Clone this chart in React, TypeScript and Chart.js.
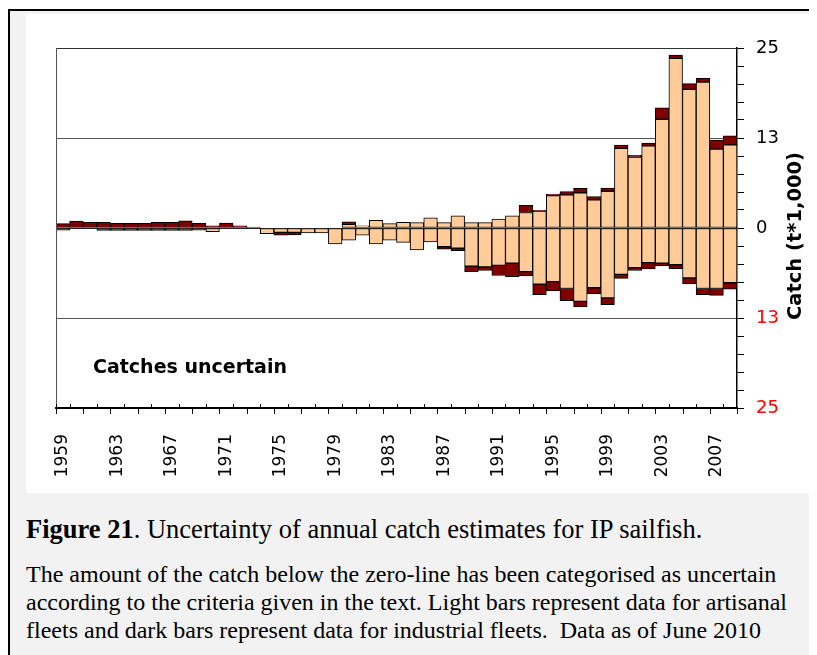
import React, { useEffect, useRef } from 'react';
import { Chart, registerables } from 'chart.js';

Chart.register(...registerables);

const years = [
  '1959', '1960', '1961', '1962', '1963', '1964', '1965', '1966', '1967', '1968',
  '1969', '1970', '1971', '1972', '1973', '1974', '1975', '1976', '1977', '1978',
  '1979', '1980', '1981', '1982', '1983', '1984', '1985', '1986', '1987', '1988',
  '1989', '1990', '1991', '1992', '1993', '1994', '1995', '1996', '1997', '1998',
  '1999', '2000', '2001', '2002', '2003', '2004', '2005', '2006', '2007', '2008',
];

// catches above the zero line (t*1,000)
const artisanalCertain = [
  0, 0, 0, 0, 0, 0, 0, 0, 0, 0,
  0, 0, 0, 0, 0, 0, 0, 0, 0, 0,
  0, 0.5, 0.3, 1.06, 0.6, 0.8, 0.75, 1.4, 0.75, 1.7,
  0.75, 0.75, 1.25, 1.7, 2.15, 2.35, 4.5, 4.6, 4.9, 3.9,
  5.1, 11.05, 9.85, 11.4, 15.1, 23.55, 19.25, 20.25, 10.95, 11.55,
];
const industrialCertain = [
  0.6, 0.95, 0.8, 0.8, 0.65, 0.65, 0.65, 0.8, 0.8, 1.0,
  0.65, 0.3, 0.7, 0.3, 0.12, 0, 0, 0, 0, 0,
  0, 0.35, 0, 0, 0, 0, 0, 0, 0, 0,
  0, 0, 0, 0, 1.0, 0.1, 0.2, 0.45, 0.6, 0.45,
  0.45, 0.45, 0.25, 0.4, 1.6, 0.45, 0.8, 0.55, 1.25, 1.25,
];
// catches below the zero line (uncertain), magnitudes
const artisanalUncertain = [
  0, 0, 0, 0, 0, 0, 0, 0, 0, 0,
  0, 0.5, 0, 0, 0, 0.8, 0.6, 0.6, 0.7, 0.7,
  2.2, 1.7, 1.0, 2.2, 1.7, 2.0, 3.05, 1.95, 2.6, 2.8,
  5.3, 5.4, 5.2, 4.9, 6.05, 7.8, 7.45, 8.4, 10.2, 8.3,
  9.7, 6.45, 5.5, 4.8, 4.9, 5.1, 6.95, 8.4, 8.4, 7.6,
];
const industrialUncertain = [
  0.3, 0, 0, 0.35, 0.35, 0.35, 0.35, 0.35, 0.35, 0.35,
  0.3, 0, 0, 0, 0, 0, 0.4, 0.35, 0, 0,
  0, 0, 0, 0, 0, 0, 0, 0, 0.35, 0.35,
  0.75, 0.5, 1.4, 1.85, 0.6, 1.45, 1.3, 1.7, 0.75, 0.85,
  0.95, 0.55, 0.4, 0.9, 0.35, 0.55, 0.8, 0.85, 0.95, 0.9,
];

const yMin = -25;
const yMax = 25;
const yStep = 2.5;
const yMajor = 12.5;

const LIGHT = '#FFCC99';
const DARK = '#800000';

const captionTitle = 'Figure 21';
const captionRest = '. Uncertainty of annual catch estimates for IP sailfish.';
const paragraphLines = [
  'The amount of the catch below the zero-line has been categorised as uncertain',
  'according to the criteria given in the text. Light bars represent data for artisanal',
  'fleets and dark bars represent data for industrial fleets.  Data as of June 2010',
];

export default function App() {
  const ref = useRef<HTMLCanvasElement>(null);

  useEffect(() => {
    document.body.style.overflow = 'hidden';
    const canvas = ref.current;
    if (!canvas) return;

    const toData = (arr: number[], sign: number) => arr.map((v) => (v === 0 ? null : sign * v));

    const overlay = {
      id: 'overlay',
      afterDatasetsDraw(chart: any) {
        const { ctx, chartArea: a, scales } = chart;
        const y0 = Math.round(scales.y.getPixelForValue(0)) + 0.5;
        ctx.save();
        ctx.lineWidth = 1;
        ctx.strokeStyle = '#222';
        ctx.beginPath();
        ctx.moveTo(a.left, y0);
        ctx.lineTo(a.right, y0);
        ctx.stroke();
        ctx.strokeStyle = '#555';
        ctx.beginPath();
        ctx.moveTo(Math.round(a.left) + 0.5, a.top);
        ctx.lineTo(Math.round(a.left) + 0.5, a.bottom);
        ctx.stroke();
        ctx.restore();
      },
      afterDraw(chart: any) {
        const { ctx, chartArea: a } = chart;
        const n = years.length;
        const step = (a.right - a.left) / n;
        ctx.save();
        ctx.strokeStyle = '#000';
        ctx.lineWidth = 1;
        for (let k = 0; k <= n; k++) {
          const x = Math.round(a.left + k * step) + 0.5;
          ctx.beginPath();
          if (k % 2 === 0) {
            ctx.moveTo(x, a.bottom);
            ctx.lineTo(x, a.bottom + 6);
          }
          if (k % 2 === 1 || k === 0) {
            ctx.moveTo(x, a.bottom - 4);
            ctx.lineTo(x, a.bottom);
          }
          ctx.stroke();
        }
        ctx.fillStyle = '#000';
        ctx.font = 'bold 19px "DejaVu Sans"';
        ctx.textAlign = 'left';
        ctx.textBaseline = 'middle';
        ctx.fillText('Catches uncertain', 67, 354);
        ctx.translate(770, 222);
        ctx.rotate(-Math.PI / 2);
        ctx.textAlign = 'center';
        ctx.font = 'bold 19.5px "DejaVu Sans"';
        ctx.fillText('Catch (t*1,000)', 0, 0);
        ctx.restore();
      },
    };

    const common = {
      borderColor: '#000',
      borderWidth: 1,
      borderSkipped: false,
      categoryPercentage: 1,
      barPercentage: 1,
      stack: 'a',
    };

    const chart = new Chart(canvas, {
      type: 'bar',
      data: {
        labels: years,
        datasets: [
          { ...common, label: 'Artisanal', data: toData(artisanalCertain, 1), backgroundColor: LIGHT },
          { ...common, label: 'Industrial', data: toData(industrialCertain, 1), backgroundColor: DARK },
          { ...common, label: 'Artisanal (uncertain)', data: toData(artisanalUncertain, -1), backgroundColor: LIGHT },
          { ...common, label: 'Industrial (uncertain)', data: toData(industrialUncertain, -1), backgroundColor: DARK },
        ],
      } as any,
      options: {
        animation: false,
        responsive: false,
        devicePixelRatio: 1,
        layout: { padding: { left: 30, top: 34, right: 0, bottom: 0 } },
        plugins: { legend: { display: false }, tooltip: { enabled: false } },
        scales: {
          x: {
            type: 'category',
            stacked: true,
            offset: true,
            grid: { display: false },
            border: { display: true, color: '#000', width: 2 },
            ticks: {
              autoSkip: false,
              maxRotation: 90,
              minRotation: 90,
              padding: 18,
              color: '#000',
              font: { family: 'DejaVu Sans', size: 17 },
              callback: (_v: any, i: number) => (i % 4 === 0 ? years[i] : ''),
            },
            afterFit: (s: any) => {
              s.height = 85;
            },
          },
          y: {
            position: 'right',
            stacked: true,
            min: yMin,
            max: yMax,
            border: { display: true, color: '#000', width: 1.5 },
            grid: {
              drawOnChartArea: true,
              drawTicks: true,
              tickLength: 7,
              tickColor: '#000',
              lineWidth: 1,
              color: (c: any) => {
                const v = c.tick ? c.tick.value : 0;
                if (v === yMax) return '#333';
                if (Math.abs(v) === yMajor) return '#555';
                return 'rgba(0,0,0,0)';
              },
            },
            ticks: {
              stepSize: yStep,
              autoSkip: false,
              padding: 12,
              font: { family: 'DejaVu Sans', size: 18 },
              color: (c: any) => (c.tick && c.tick.value < 0 ? '#ff0000' : '#000'),
              callback: (v: any) => {
                const n = Number(v);
                return Math.abs(n) % yMajor === 0 ? String(Math.round(Math.abs(n))) : '';
              },
            },
            afterFit: (s: any) => {
              s.width = 78;
            },
          },
        },
      } as any,
      plugins: [overlay],
    });

    return () => chart.destroy();
  }, []);

  return (
    <div style={{ position: 'relative', width: 809, height: 647 }}>
      <div
        style={{
          position: 'absolute',
          left: 0,
          top: 1,
          width: 809,
          height: 646,
          borderTop: '2px solid #000',
          borderLeft: '2px solid #000',
          background: '#f2f2f2',
          boxSizing: 'border-box',
        }}
      />
      <div style={{ position: 'absolute', left: 18, top: 6, width: 789, height: 479, background: '#fff' }}>
        <canvas ref={ref} width={789} height={479} style={{ display: 'block', width: 789, height: 479 }} />
      </div>
      <div
        style={{
          position: 'absolute',
          left: 18,
          top: 505,
          fontFamily: '"Liberation Serif", serif',
          fontSize: 26.5,
          lineHeight: '32px',
          whiteSpace: 'nowrap',
          color: '#000',
        }}
      >
        <b>{captionTitle}</b>
        {captionRest}
      </div>
      <div
        style={{
          position: 'absolute',
          left: 18,
          top: 552,
          fontFamily: '"Liberation Serif", serif',
          fontSize: 24,
          lineHeight: '28px',
          whiteSpace: 'pre',
          color: '#000',
        }}
      >
        {paragraphLines.join('\n')}
      </div>
    </div>
  );
}
